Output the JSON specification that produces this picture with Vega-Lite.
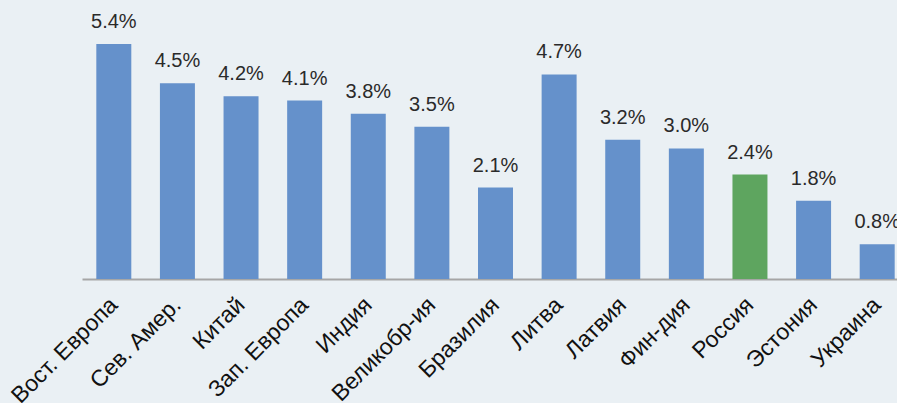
{
  "$schema": "https://vega.github.io/schema/vega-lite/v6.json",
  "autosize": "none",
  "width": 815,
  "height": 235,
  "padding": {"left": 82, "top": 44, "right": 0, "bottom": 124},
  "background": "#eaf0f4",
  "config": {"view": {"stroke": null}, "font": "Liberation Sans"},
  "data": {"values": [
    {"region": "Вост. Европа", "value": 5.4, "label": "5.4%", "hl": "n"},
    {"region": "Сев. Амер.", "value": 4.5, "label": "4.5%", "hl": "n"},
    {"region": "Китай", "value": 4.2, "label": "4.2%", "hl": "n"},
    {"region": "Зап. Европа", "value": 4.1, "label": "4.1%", "hl": "n"},
    {"region": "Индия", "value": 3.8, "label": "3.8%", "hl": "n"},
    {"region": "Великобр-ия", "value": 3.5, "label": "3.5%", "hl": "n"},
    {"region": "Бразилия", "value": 2.1, "label": "2.1%", "hl": "n"},
    {"region": "Литва", "value": 4.7, "label": "4.7%", "hl": "n"},
    {"region": "Латвия", "value": 3.2, "label": "3.2%", "hl": "n"},
    {"region": "Фин-дия", "value": 3.0, "label": "3.0%", "hl": "n"},
    {"region": "Россия", "value": 2.4, "label": "2.4%", "hl": "y"},
    {"region": "Эстония", "value": 1.8, "label": "1.8%", "hl": "n"},
    {"region": "Украина", "value": 0.8, "label": "0.8%", "hl": "n"}
  ]},
  "encoding": {
    "x": {
      "field": "region", "type": "nominal", "sort": null,
      "scale": {"range": [0, 827], "paddingInner": 0.45, "paddingOuter": 0.225},
      "axis": {
        "title": null, "ticks": false, "domainColor": "#a6a6a6", "domainWidth": 2,
        "labelAngle": -45, "labelAlign": "right", "labelBaseline": "middle",
        "labelFontSize": 23, "labelColor": "#111", "labelPadding": 22, "labelFont": "Liberation Sans",
        "labelOverlap": false, "labelBound": false
      }
    },
    "y": {
      "field": "value", "type": "quantitative",
      "scale": {"domain": [0, 5.4], "nice": false, "zero": true},
      "axis": null
    }
  },
  "layer": [
    {
      "mark": {"type": "bar"},
      "encoding": {
        "color": {
          "field": "hl", "type": "nominal",
          "scale": {"domain": ["n", "y"], "range": ["#6591cb", "#5ea55f"]},
          "legend": null
        }
      }
    },
    {
      "mark": {"type": "text", "baseline": "alphabetic", "dy": -16, "fontSize": 20, "color": "#2a2a2a", "font": "Liberation Sans"},
      "encoding": {"text": {"field": "label"}}
    }
  ]
}
